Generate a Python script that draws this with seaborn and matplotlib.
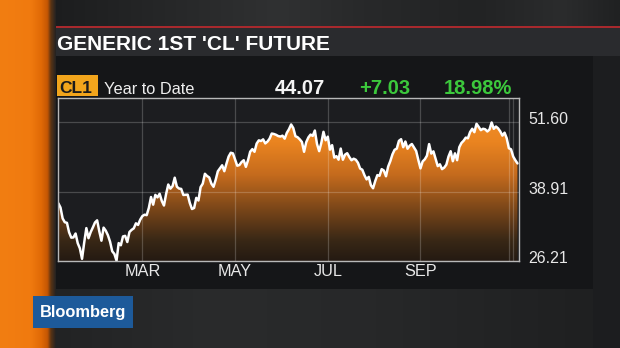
import numpy as np
import pandas as pd
import matplotlib
matplotlib.use("Agg")
import matplotlib.pyplot as plt
import seaborn as sns
from matplotlib.patches import Rectangle
from matplotlib.colors import LinearSegmentedColormap
from matplotlib.transforms import ScaledTranslation

# ---------------- data (CL1 generic 1st future, 2016 YTD closes) ----------------
jan = [36.76, 35.97, 33.97, 33.27, 33.16, 31.41, 30.44, 30.48, 31.20, 29.42,
       28.46, 26.55, 29.53, 32.19, 30.34, 31.45, 32.30, 33.22, 33.62]
feb = [31.62, 29.88, 32.28, 31.72, 30.89, 29.69, 27.94, 27.45, 26.21, 29.44,
       29.04, 30.66, 30.77, 29.64, 31.48, 31.87, 32.15, 33.07, 32.78, 33.75]
mar = [34.40, 34.66, 34.57, 35.92, 37.90, 36.50, 38.29, 37.84, 38.50, 37.18,
       36.34, 38.46, 40.20, 39.44, 39.91, 41.45, 39.79, 39.46, 39.39, 38.28,
       38.32, 38.34]
apr = [36.79, 35.70, 35.89, 37.75, 37.26, 39.72, 40.36, 42.17, 41.76, 41.50,
       40.36, 39.78, 41.08, 42.63, 43.18, 43.73, 42.64, 44.04, 45.33, 46.03,
       45.92]
may = [44.78, 43.65, 43.78, 44.32, 44.66, 43.44, 44.66, 46.23, 46.70, 46.21,
       47.72, 48.31, 48.19, 48.49, 47.75, 48.08, 48.62, 49.56, 49.48, 49.33,
       49.10]
jun = [49.01, 49.17, 48.62, 49.69, 50.36, 51.23, 50.56, 49.07, 48.88, 48.49,
       48.01, 46.21, 47.98, 48.85, 49.37, 49.13, 50.11, 47.64, 46.33, 47.85,
       49.88, 48.33]
jul = [48.99, 46.60, 47.43, 45.14, 45.41, 44.76, 46.80, 44.75, 45.68, 45.95,
       45.24, 44.65, 44.94, 44.75, 44.19, 43.13, 42.92, 41.92, 41.14, 41.60]
aug = [40.06, 39.51, 40.83, 41.93, 41.80, 43.02, 42.77, 41.71, 43.49, 44.49,
       45.74, 46.58, 46.79, 48.22, 48.52, 47.05, 48.10, 46.77, 47.33, 47.64,
       46.98, 46.35, 44.70]
sep = [43.16, 44.44, 44.83, 45.50, 47.62, 45.88, 46.29, 44.90, 43.58, 43.91,
       43.03, 43.30, 43.85, 45.34, 46.32, 44.48, 45.93, 44.67, 47.05, 47.83,
       48.24]
oct_ = [48.81, 48.69, 49.83, 50.44, 49.81, 51.35, 50.79, 50.18, 50.44, 50.35,
        49.94, 50.29, 51.60, 50.43, 50.85, 50.52, 49.96, 49.18, 49.72, 48.70,
        46.86]
nov = [46.67, 45.34, 44.66, 44.07]

holidays = ["2016-01-18", "2016-02-15", "2016-03-25", "2016-05-30",
            "2016-07-04", "2016-09-05"]
start_date, end_date = "2016-01-04", "2016-11-04"

month_dates = ["2016-03-01", "2016-05-02", "2016-07-01", "2016-09-01"]
month_labels = ["MAR", "MAY", "JUL", "SEP"]
extra_grid_dates = ["2016-10-31", "2016-11-02"]

y_ticks = [26.21, 38.91, 51.60]
y_labels = ["26.21", "38.91", "51.60"]

title = "GENERIC 1ST 'CL' FUTURE"
ticker = "CL1"
period = "Year to Date"
last_px = "44.07"
net_chg = "+7.03"
pct_chg = "18.98%"
brand = "Bloomberg"

# ---------------- frame ----------------
prices = jan + feb + mar + apr + may + jun + jul + aug + sep + oct_ + nov
dates = pd.bdate_range(start_date, end_date, freq="C", holidays=holidays)
df = pd.DataFrame({"date": dates, "i": np.arange(len(dates)), "price": prices})
pos = {d: i for i, d in enumerate(dates)}
month_pos = [pos[pd.Timestamp(d)] for d in month_dates]
extra_pos = [pos[pd.Timestamp(d)] for d in extra_grid_dates]

sns.set_theme(style="dark")
plt.rcParams["font.family"] = ["Liberation Sans", "DejaVu Sans"]

W, H = 620, 348
fig = plt.figure(figsize=(W / 100, H / 100), dpi=100)
fig.patch.set_facecolor("#1f2022")

# background axes in pixel coordinates
bg = fig.add_axes([0, 0, 1, 1])
bg.set_zorder(0)
bg.axis("off")


def hgrad(x0, x1, y0, y1, colors, z=1):
    cmap = LinearSegmentedColormap.from_list("g", colors)
    arr = np.linspace(0, 1, 256).reshape(1, -1)
    bg.imshow(arr, cmap=cmap, extent=(x0, x1, y1, y0), aspect="auto",
              interpolation="bilinear", zorder=z)


def rect(x0, y0, x1, y1, color, z=1):
    bg.add_patch(Rectangle((x0, y0), x1 - x0, y1 - y0, facecolor=color,
                           edgecolor="none", zorder=z))


# top strip
hgrad(50, W, 0, 27, [(0, "#1c1d1e"), (0.2, "#262728"), (0.4, "#303132"),
                     (0.55, "#28292a"), (0.75, "#222324"), (0.9, "#2b2c2d"),
                     (1, "#202122")])
# red rule and title band
rect(48, 25.5, W, 28, "#a8292d", z=2)
rect(48, 28, W, 56, "#2a2b2e", z=2)
# dark panel
rect(50, 56, 593, 289, "#151618", z=2)
# right strip
rect(593, 56, W, H, "#1c1d1f", z=2)
# lower area
hgrad(50, 593, 289, H, [(0, "#222324"), (0.3, "#2a2b2c"), (0.6, "#272829"),
                        (1, "#1f2021")], z=2)
# orange strip at left
hgrad(0, 56, 0, H, [(0, "#f27e12"), (0.55, "#f07a0f"), (0.74, "#e06906"),
                    (0.85, "#c45604"), (0.91, "#5a3414"), (1, "#232222")], z=3)

# header texts
bg.text(57, 49.5, title, fontsize=15, fontweight="bold", color="#ffffff",
        ha="left", va="baseline", zorder=5)
rect(57, 75, 98, 96, "#f2a51c", z=5)
bg.text(59, 93, ticker, fontsize=12.5, fontweight="bold", color="#1b1b1b",
        ha="left", va="baseline", zorder=6)
bg.text(103.5, 94, period, fontsize=11.8, color="#eeeeee",
        ha="left", va="baseline", zorder=6)
bg.text(275, 94, last_px, fontsize=14.5, fontweight="bold", color="#f4f4f4",
        ha="left", va="baseline", zorder=6)
bg.text(359, 94, net_chg, fontsize=14.5, fontweight="bold", color="#3cc83c",
        ha="left", va="baseline", zorder=6)
bg.text(444, 94, pct_chg, fontsize=14.5, fontweight="bold", color="#3cc83c",
        ha="left", va="baseline", zorder=6)

# Bloomberg logo box
rect(33, 296, 133, 328, "#1d5a9a", z=6)
bg.text(83, 317.5, brand, fontsize=11.8, fontweight="bold", color="#ffffff",
        ha="center", va="baseline", zorder=7)

bg.set_xlim(0, W)
bg.set_ylim(H, 0)

# ---------------- chart axes ----------------
L, R, T, B = 58, 519, 98, 261
ax = fig.add_axes([L / W, 1 - B / H, (R - L) / W, (B - T) / H])
ax.set_zorder(3)
ax.set_facecolor("#1c1d20")

ylo, yhi = 26.15, 56.09
xlo, xhi = -0.15, 213.7

# gradient fill under the line
fill = ax.fill_between(df["i"], df["price"], ylo, facecolor="none",
                       edgecolor="none")
gcmap = LinearSegmentedColormap.from_list(
    "fill", [(0, "#241a12"), (0.13, "#3a2816"), (0.33, "#7e4819"),
             (0.53, "#c56b1d"), (0.73, "#ea8420"), (1, "#f5952f")])
img = ax.imshow(np.linspace(0, 1, 256).reshape(-1, 1), cmap=gcmap,
                origin="lower", extent=(xlo, xhi, ylo, yhi), aspect="auto",
                interpolation="bilinear", zorder=1)
img.set_clip_path(fill.get_paths()[0], transform=ax.transData)

sns.lineplot(data=df, x="i", y="price", ax=ax, color="white", lw=1.8,
             zorder=4, legend=False)

ax.set_xlim(xlo, xhi)
ax.set_ylim(ylo, yhi)
ax.set_xlabel("")
ax.set_ylabel("")

ax.set_xticks(month_pos)
ax.set_xticklabels(month_labels)
ax.set_xticks(extra_pos, minor=True)
ax.set_yticks(y_ticks)
ax.set_yticklabels(y_labels)
ax.yaxis.tick_right()

ax.tick_params(axis="x", which="both", length=0, pad=2, labelsize=11.7,
               labelcolor="#e8e8e8")
ax.tick_params(axis="y", length=0, pad=6.5, labelsize=11.5,
               labelcolor="#e8e8e8")
off = ScaledTranslation(0, -2 / 100, fig.dpi_scale_trans)
for lab in ax.get_yticklabels():
    lab.set_va("baseline")
    lab.set_transform(lab.get_transform() + off)

ax.set_axisbelow(False)
ax.grid(True, which="major", axis="both", color="white", alpha=0.2, lw=0.9)
ax.grid(True, which="minor", axis="x", color="white", alpha=0.2, lw=0.9)

for s in ax.spines.values():
    s.set_visible(True)
    s.set_color("#b8b8b8")
    s.set_linewidth(1.0)
    s.set_zorder(5)

fig.savefig("out.png", dpi=100, facecolor=fig.get_facecolor())
